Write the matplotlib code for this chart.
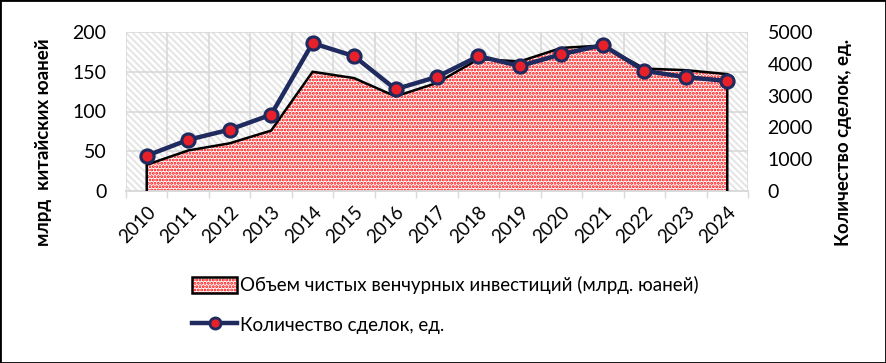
import matplotlib
matplotlib.use("Agg")
import matplotlib.pyplot as plt
import numpy as np
from matplotlib.patches import Patch
from matplotlib.lines import Line2D
from matplotlib.legend_handler import HandlerTuple

years = ["2010", "2011", "2012", "2013", "2014", "2015", "2016", "2017",
         "2018", "2019", "2020", "2021", "2022", "2023", "2024"]
investment = [33, 51, 60, 76, 150, 142, 119, 136, 166, 163, 180, 183, 154, 152, 147]
deals = [1110, 1610, 1930, 2400, 4650, 4240, 3200, 3590, 4240, 3930, 4300, 4590, 3780, 3580, 3460]
left_ticks = [0, 50, 100, 150, 200]
right_ticks = [0, 1000, 2000, 3000, 4000, 5000]

FONT = ["Lato", "DejaVu Sans"]
plt.rcParams['font.family'] = FONT
plt.rcParams['hatch.linewidth'] = 1.4

W, H = 886, 363
fig = plt.figure(figsize=(W / 100, H / 100), dpi=100)
ax = fig.add_axes([126 / W, 1 - 191 / H, (748 - 126) / W, (191 - 32) / H])

x = np.arange(len(years))
GRID = "#d9d9d9"
DOTRED = "#ff0000"

# background hatch
ax.set_facecolor("white")
ax.patch.set_hatch("\\\\\\\\\\")
ax.patch.set_edgecolor("#e4e4e4")
ax.patch.set_linewidth(0)

ax.set_xlim(-0.5, len(years) - 0.5)
ax.set_ylim(0, 200)
ax.set_yticks(left_ticks)
ax.set_xticks(x)
ax.set_xticklabels(years, rotation=45, ha="right", rotation_mode="anchor")
ax.set_xticks(np.arange(-0.5, len(years)), minor=True)
ax.tick_params(axis="x", which="major", length=0, labelsize=13.5, pad=9)
ax.tick_params(axis="x", which="minor", length=5, color=GRID, width=1)
ax.tick_params(axis="y", length=0, labelsize=14, pad=14)
ax.grid(True, axis="y", color=GRID, linewidth=1.2)
ax.grid(True, axis="x", which="minor", color=GRID, linewidth=1.2)
ax.set_axisbelow(True)
for s in ["top", "left", "right"]:
    ax.spines[s].set_visible(False)
ax.spines["bottom"].set_color(GRID)
ax.spines["bottom"].set_linewidth(1.4)

# area
ax.fill_between(x, 0, investment, facecolor="white", edgecolor=DOTRED,
                hatch=".....", linewidth=0, zorder=2)
ax.plot(np.r_[x[0], x, x[-1]], np.r_[0, investment, 0], color="black",
        linewidth=1.8, zorder=3, solid_joinstyle="miter")

ax2 = ax.twinx()
ax2.set_ylim(0, 5000)
ax2.set_yticks(right_ticks)
ax2.tick_params(axis="y", length=0, labelsize=14, pad=14)
for s in ax2.spines.values():
    s.set_visible(False)
NAVY = "#1f2a5e"
RED = "#e8202a"
ax2.plot(x, deals, color=NAVY, linewidth=3.2, marker="o", markersize=9.5,
         markerfacecolor=RED, markeredgecolor=NAVY, markeredgewidth=2.2, zorder=4)

fig.text(44 / W, 1 - 142 / H, "млрд  китайских юаней", rotation=90, ha="center",
         va="center", fontsize=13.5, fontweight="bold")
fig.text(843 / W, 1 - 142 / H, "Количество сделок, ед.", rotation=90, ha="center",
         va="center", fontsize=13.5, fontweight="bold")

h1 = (Patch(facecolor="white", edgecolor=DOTRED, hatch=".....", linewidth=0),
      Patch(facecolor="none", edgecolor="black", linewidth=1.8))
h2 = Line2D([], [], color=NAVY, linewidth=3.2, marker="o", markersize=8,
            markerfacecolor=RED, markeredgecolor=NAVY, markeredgewidth=2)
fig.legend([h1, h2], ["Объем чистых венчурных инвестиций (млрд. юаней)",
                      "Количество сделок, ед."],
           handler_map={tuple: HandlerTuple(ndivide=1, pad=0)},
           loc="upper left", bbox_to_anchor=(183 / W, 1 - 267 / H),
           frameon=False, fontsize=13.5, labelspacing=1.15, handlelength=2.4,
           handletextpad=0.15, borderpad=0, handleheight=1.0)

fig.patches.append(plt.Rectangle((0, 0), 1, 1, transform=fig.transFigure,
                                 fill=False, edgecolor="black", linewidth=2))

fig.savefig("out.png", dpi=100)
